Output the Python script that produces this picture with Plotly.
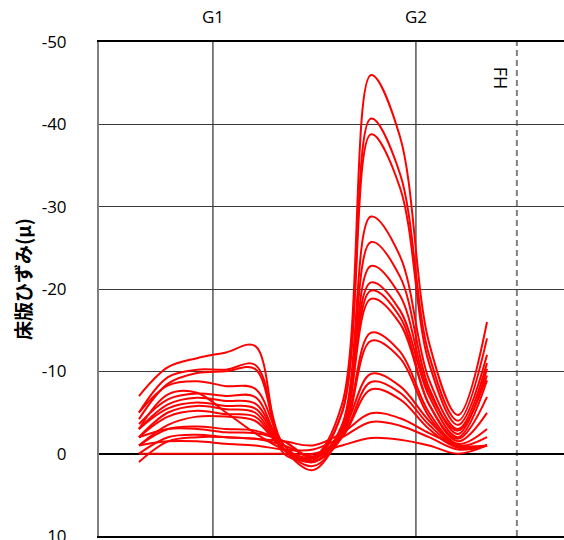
import plotly.graph_objects as go

# measurement positions (index units along the deck); G1 / G2 girders and FH line
positions = [0, 1, 2, 3, 4, 5, 6, 7, 8, 9, 10, 11, 12]
g1_pos = 2.55
g2_pos = 9.55
fh_pos = 13.03

strain_1 = [-7.0, -10.5, -11.6, -12.3, -13.1, 0.0, 0.5, -6.0, -46.0, -38.5, -13.5, -4.7, -16.0]
strain_2 = [-5.0, -9.3, -10.2, -10.2, -10.8, -1.0, 0.8, -5.0, -40.7, -34.0, -12.0, -4.0, -14.0]
strain_3 = [-4.2, -8.5, -9.8, -10.0, -10.3, -0.5, 0.5, -5.0, -38.8, -32.3, -11.0, -3.5, -12.0]
strain_4 = [-5.0, -8.3, -8.8, -8.2, -7.9, -1.0, 1.0, -3.5, -28.8, -24.0, -9.0, -3.0, -11.0]
strain_5 = [-3.6, -6.6, -7.3, -7.0, -6.9, -0.5, 1.0, -3.0, -25.7, -21.5, -8.0, -2.4, -10.3]
strain_6 = [-3.0, -7.2, -7.4, -5.0, -2.5, -0.5, 0.5, -3.0, -22.8, -19.2, -7.5, -2.8, -9.5]
strain_7 = [-3.0, -6.0, -6.8, -6.4, -6.1, -0.5, 2.0, -3.0, -20.8, -17.4, -7.0, -2.0, -8.9]
strain_8 = [-3.0, -5.5, -6.2, -5.8, -5.5, -0.5, 1.5, -2.5, -19.8, -16.6, -6.0, -1.8, -6.9]
strain_9 = [-2.0, -5.0, -5.8, -5.4, -5.0, -0.5, 0.5, -3.0, -18.8, -15.8, -6.0, -1.5, -4.95]
strain_10 = [-2.0, -4.5, -5.2, -4.8, -4.5, -0.5, 0.5, -2.5, -14.7, -12.4, -5.0, -1.2, -3.0]
strain_11 = [-1.0, -3.5, -4.5, -4.5, -4.0, -0.5, 1.0, -2.0, -13.7, -11.6, -4.5, -1.0, -2.0]
strain_12 = [-1.0, -3.0, -3.3, -3.0, -2.8, -1.5, 0.5, -2.5, -9.7, -8.2, -4.0, -1.0, -1.0]
strain_13 = [-2.0, -3.0, -3.0, -2.6, -2.5, -1.5, 0.5, -2.0, -8.7, -7.4, -3.5, -0.8, -1.0]
strain_14 = [0.0, -2.0, -2.3, -2.0, -1.8, -1.0, 0.3, -2.0, -7.8, -6.6, -3.0, -0.7, -1.0]
strain_15 = [1.0, -1.5, -2.0, -2.0, -1.8, -1.5, -1.0, -2.5, -4.9, -4.3, -2.5, -1.0, -1.0]
strain_16 = [-1.0, -1.5, -1.5, -1.2, -1.0, -0.5, -0.5, -2.0, -3.85, -3.4, -2.0, -0.5, -1.0]
strain_17 = [0.0, 0.0, 0.0, 0.0, 0.0, 0.0, 0.0, -1.0, -1.9, -1.7, -1.0, 0.0, -1.0]

series = [strain_1, strain_2, strain_3, strain_4, strain_5, strain_6, strain_7,
          strain_8, strain_9, strain_10, strain_11, strain_12, strain_13,
          strain_14, strain_15, strain_16, strain_17]

y_ticks = [-50, -40, -30, -20, -10, 0, 10]
y_tick_text = ["-50", "-40", "-30", "-20", "-10", "0", "10"]
girder_labels = ["G1", "G2"]
fh_label = "FH"
y_title = "床版ひずみ(μ)"

fig = go.Figure()
for s in series:
    fig.add_trace(go.Scatter(x=positions, y=s, mode="lines",
                             line=dict(color="#FF0000", width=2, shape="spline", smoothing=1.0),
                             showlegend=False, hoverinfo="skip"))

x_left = -1.379
x_right = 14.655

# girder vertical lines
for gp in [g1_pos, g2_pos]:
    fig.add_shape(type="line", xref="x", yref="paper", x0=gp, x1=gp, y0=0, y1=1,
                  line=dict(color="#000000", width=1), layer="below")
# FH dashed line
fig.add_shape(type="line", xref="x", yref="paper", x0=fh_pos, x1=fh_pos, y0=0, y1=1,
              line=dict(color="#808080", width=2, dash="6px,4px"), layer="below")

font_main = "Open Sans, Liberation Sans, sans-serif"
for lab, gp in zip(girder_labels, [g1_pos, g2_pos]):
    fig.add_annotation(x=gp, y=1, xref="x", yref="paper", text=lab, showarrow=False,
                       yanchor="bottom", yshift=12,
                       font=dict(family=font_main, size=17, color="#000000"))
fig.add_annotation(x=fh_pos, y=1, xref="x", yref="paper", text=fh_label, showarrow=False,
                   textangle=90, xanchor="center", yanchor="top", xshift=-15, yshift=-23,
                   font=dict(family=font_main, size=18, color="#000000"))
fig.add_annotation(x=0, y=0.5, xref="paper", yref="paper", text="<b>" + y_title + "</b>",
                   showarrow=False, textangle=-90, xanchor="center", yanchor="middle",
                   xshift=-77, yshift=10,
                   font=dict(family="Noto Sans CJK JP", size=19, color="#000000"))

fig.update_layout(
    width=564, height=540,
    margin=dict(l=99, r=0, t=42, b=4, autoexpand=False),
    paper_bgcolor="white", plot_bgcolor="white",
    xaxis=dict(range=[x_left, x_right], showgrid=False, zeroline=False,
               showticklabels=False, ticks="", showline=True, mirror=True,
               linecolor="#000000", linewidth=2, automargin=False),
    yaxis=dict(range=[10, -50], tickvals=y_ticks, ticktext=y_tick_text,
               showgrid=True, gridcolor="#3a3a3a", gridwidth=1,
               zeroline=True, zerolinecolor="#000000", zerolinewidth=2,
               showline=True, linecolor="#7f7f7f", linewidth=2, mirror=False,
               ticks="", ticklabelstandoff=27, ticklabeloverflow="allow",
               automargin=False,
               tickfont=dict(family=font_main, size=17, color="#000000")),
)

fig.write_html("out.html")
